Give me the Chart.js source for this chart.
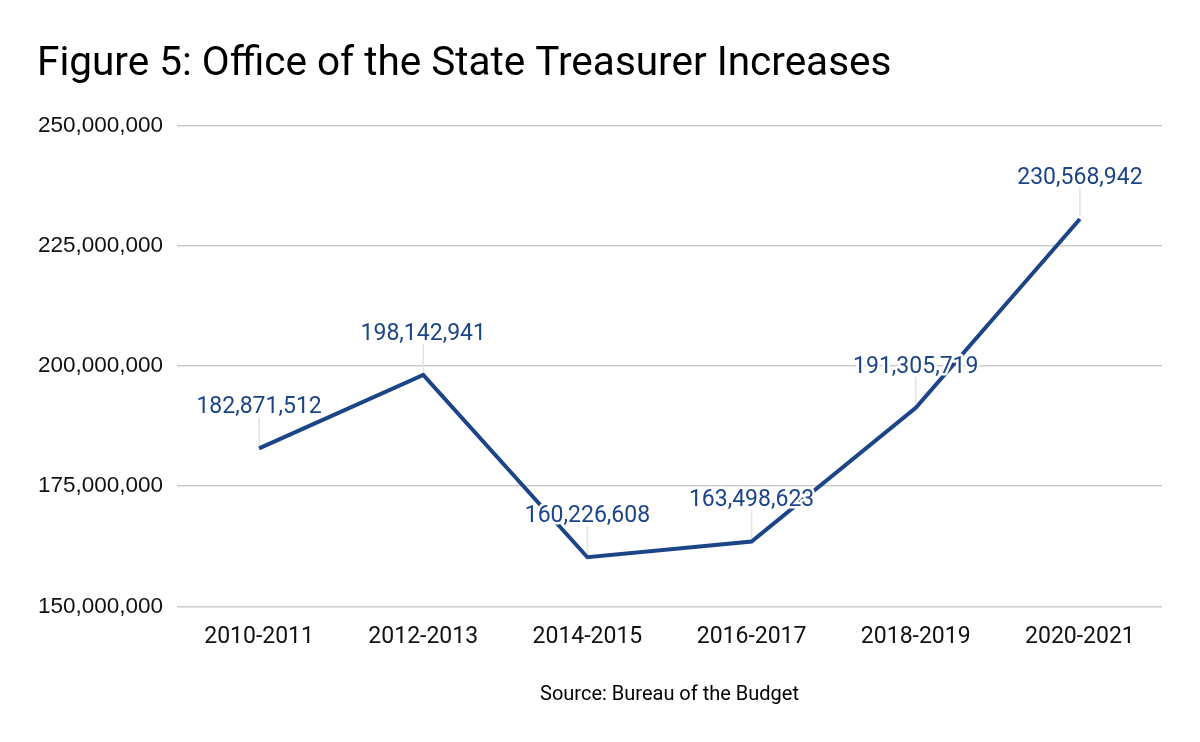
<!DOCTYPE html>
<html>
<head>
<meta charset="utf-8">
<script src="https://cdn.jsdelivr.net/npm/chart.js@4.4.0/dist/chart.umd.min.js"></script>
<style>
  html, body { margin: 0; padding: 0; background: #fff; }
  #wrap { width: 1200px; height: 742px; position: relative; }
</style>
</head>
<body>
<div id="wrap"><canvas id="myChart"></canvas></div>
<script>
// data
const periods = ["2010-2011", "2012-2013", "2014-2015", "2016-2017", "2018-2019", "2020-2021"];
const spending = [182871512, 198142941, 160226608, 163498623, 191305719, 230568942];
const yTicks = [150000000, 175000000, 200000000, 225000000, 250000000];

const blue = "#1c4587";
const fmt = (v) => Number(v).toLocaleString("en-US");

// value labels with a thin leader line and white halo
const pointLabels = {
  id: "pointLabels",
  afterDatasetsDraw(chart) {
    const ctx = chart.ctx;
    const meta = chart.getDatasetMeta(0);
    ctx.save();
    meta.data.forEach((pt, i) => {
      const x = pt.x, y = pt.y;
      ctx.strokeStyle = "#e3e3e3";
      ctx.lineWidth = 1.5;
      ctx.beginPath();
      ctx.moveTo(x, y - 3);
      ctx.lineTo(x, y - 31);
      ctx.stroke();

      ctx.font = "23px Roboto";
      ctx.textAlign = "center";
      ctx.textBaseline = "alphabetic";
      ctx.lineJoin = "round";
      ctx.strokeStyle = "#fff";
      ctx.lineWidth = 5;
      const txt = fmt(spending[i]);
      ctx.strokeText(txt, x, y - 35);
      ctx.fillStyle = blue;
      ctx.fillText(txt, x, y - 35);
    });
    ctx.restore();
  },
};

let lineChart = new Chart(document.getElementById("myChart"), {
  type: "line",
  data: {
    labels: periods,
    datasets: [
      {
        label: "Office of the State Treasurer",
        data: spending,
        borderColor: blue,
        backgroundColor: blue,
        borderWidth: 4,
        pointRadius: 0,
        tension: 0,
      },
    ],
  },
  options: {
    responsive: true,
    maintainAspectRatio: false,
    animation: false,
    layout: { padding: { left: 37, right: 38, top: 0, bottom: 0 } },
    plugins: {
      legend: { display: false },
      tooltip: { enabled: false },
      title: {
        display: true,
        text: "Figure 5: Office of the State Treasurer Increases",
        align: "start",
        color: "#000",
        font: { family: "Roboto", size: 40.5, weight: "normal" },
        padding: { top: 41, bottom: 36 },
      },
    },
    scales: {
      x: {
        offset: true,
        grid: { display: false },
        border: { display: false },
        ticks: {
          color: "#111",
          font: { family: "Roboto", size: 23 },
          padding: 9,
        },
        title: {
          display: true,
          text: "Source: Bureau of the Budget",
          color: "#000",
          font: { family: "Roboto", size: 20 },
          padding: { top: 23, bottom: 35 },
        },
      },
      y: {
        min: yTicks[0],
        max: yTicks[yTicks.length - 1],
        afterBuildTicks(scale) {
          scale.ticks = yTicks.map((v) => ({ value: v }));
        },
        afterFit(scale) {
          scale.width = 140;
        },
        grid: { color: "#cccccc", lineWidth: 1.5, drawTicks: false },
        border: { display: false },
        ticks: {
          color: "#111",
          font: { family: "Liberation Sans", size: 22.5 },
          padding: 14,
          callback: (v) => fmt(v),
        },
      },
    },
  },
  plugins: [pointLabels],
});
</script>
</body>
</html>
